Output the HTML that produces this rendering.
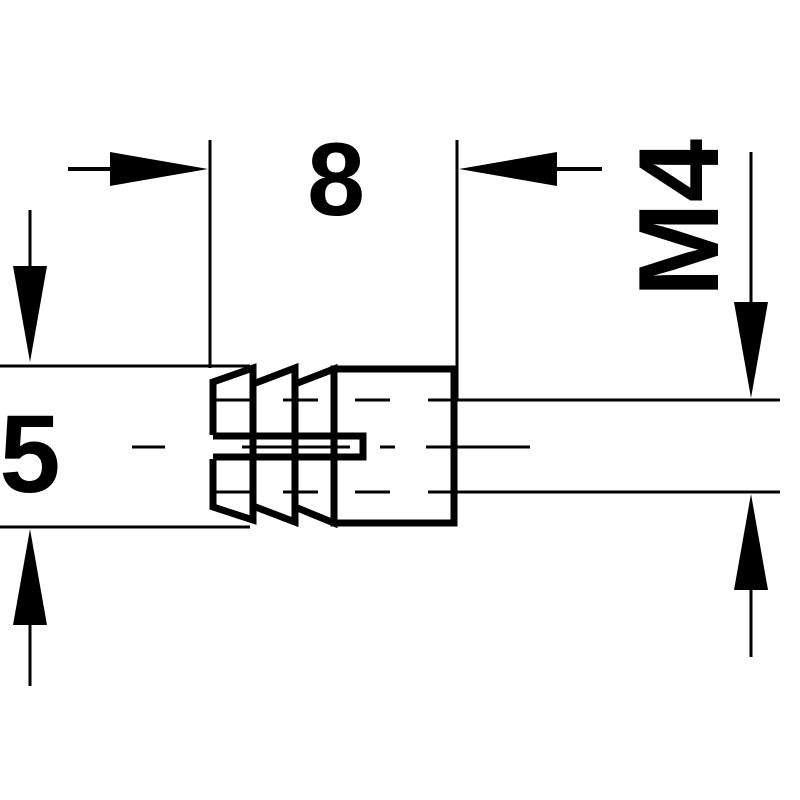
<!DOCTYPE html>
<html><head><style>html,body{margin:0;padding:0;background:#fff}svg{display:block}</style></head>
<body>
<svg width="800" height="800" viewBox="0 0 800 800" xmlns="http://www.w3.org/2000/svg">
<g stroke="#000" fill="none" stroke-linecap="butt">
  <line x1="210" y1="140" x2="210" y2="368" stroke-width="3"/>
  <line x1="457" y1="140" x2="457" y2="400" stroke-width="3"/>
  <line x1="68" y1="169" x2="120" y2="169" stroke-width="4"/>
  <line x1="545" y1="169" x2="602" y2="169" stroke-width="4"/>
  <line x1="30" y1="210" x2="30" y2="270" stroke-width="3"/>
  <line x1="30" y1="625" x2="30" y2="686" stroke-width="3"/>
  <line x1="751" y1="152" x2="751" y2="305" stroke-width="3"/>
  <line x1="751" y1="590" x2="751" y2="657" stroke-width="3"/>
  <line x1="0" y1="366" x2="250" y2="366" stroke-width="3"/>
  <line x1="0" y1="527" x2="250" y2="527" stroke-width="3"/>
  <line x1="457" y1="400" x2="780" y2="400" stroke-width="3"/>
  <line x1="457" y1="492" x2="780" y2="492" stroke-width="3"/>
  <g stroke-width="3">
    <line x1="132" y1="447" x2="165" y2="447"/>
    <line x1="380" y1="447" x2="395" y2="447"/>
    <line x1="426" y1="447" x2="530" y2="447"/>
    <line x1="283" y1="400" x2="318" y2="400"/>
    <line x1="355" y1="400" x2="390" y2="400"/>
    <line x1="428" y1="400" x2="457" y2="400"/>
    <line x1="283" y1="492" x2="318" y2="492"/>
    <line x1="355" y1="492" x2="390" y2="492"/>
    <line x1="428" y1="492" x2="457" y2="492"/>
    <line x1="214" y1="400" x2="255" y2="400"/>
    <line x1="214" y1="492" x2="255" y2="492"/>
  </g>
  <g stroke-width="7" stroke-linejoin="miter">
    <polyline points="213,435 213,382 253,368 253,520 213,507 213,459"/>
    <polyline points="253,384 295,368 295,522 253,506"/>
    <polyline points="295,384 334,369 334,523 295,507"/>
    <rect x="334" y="369" width="120" height="154"/>
    <polyline points="213,436 363,436 363,457 213,457"/>
  </g>
  <line x1="242" y1="447" x2="350" y2="447" stroke-width="3"/>
</g>
<g fill="#000">
  <polygon points="208,169 110,152 110,186"/>
  <polygon points="459,169 557,152 557,186"/>
  <polygon points="30,362 13,266 47,266"/>
  <polygon points="30,529 13,625 47,625"/>
  <polygon points="751,398 734,302 768,302"/>
  <polygon points="751,494 734,590 768,590"/>
</g>
<g font-family="Liberation Sans, Arial, sans-serif" font-weight="bold" fill="#000">
  <text x="336" y="215" font-size="104" text-anchor="middle">8</text>
  <text x="30" y="492" font-size="110" text-anchor="middle">5</text>
  <text transform="translate(718,218) rotate(-90)" font-size="114" text-anchor="middle">M4</text>
</g>
</svg>
</body></html>
